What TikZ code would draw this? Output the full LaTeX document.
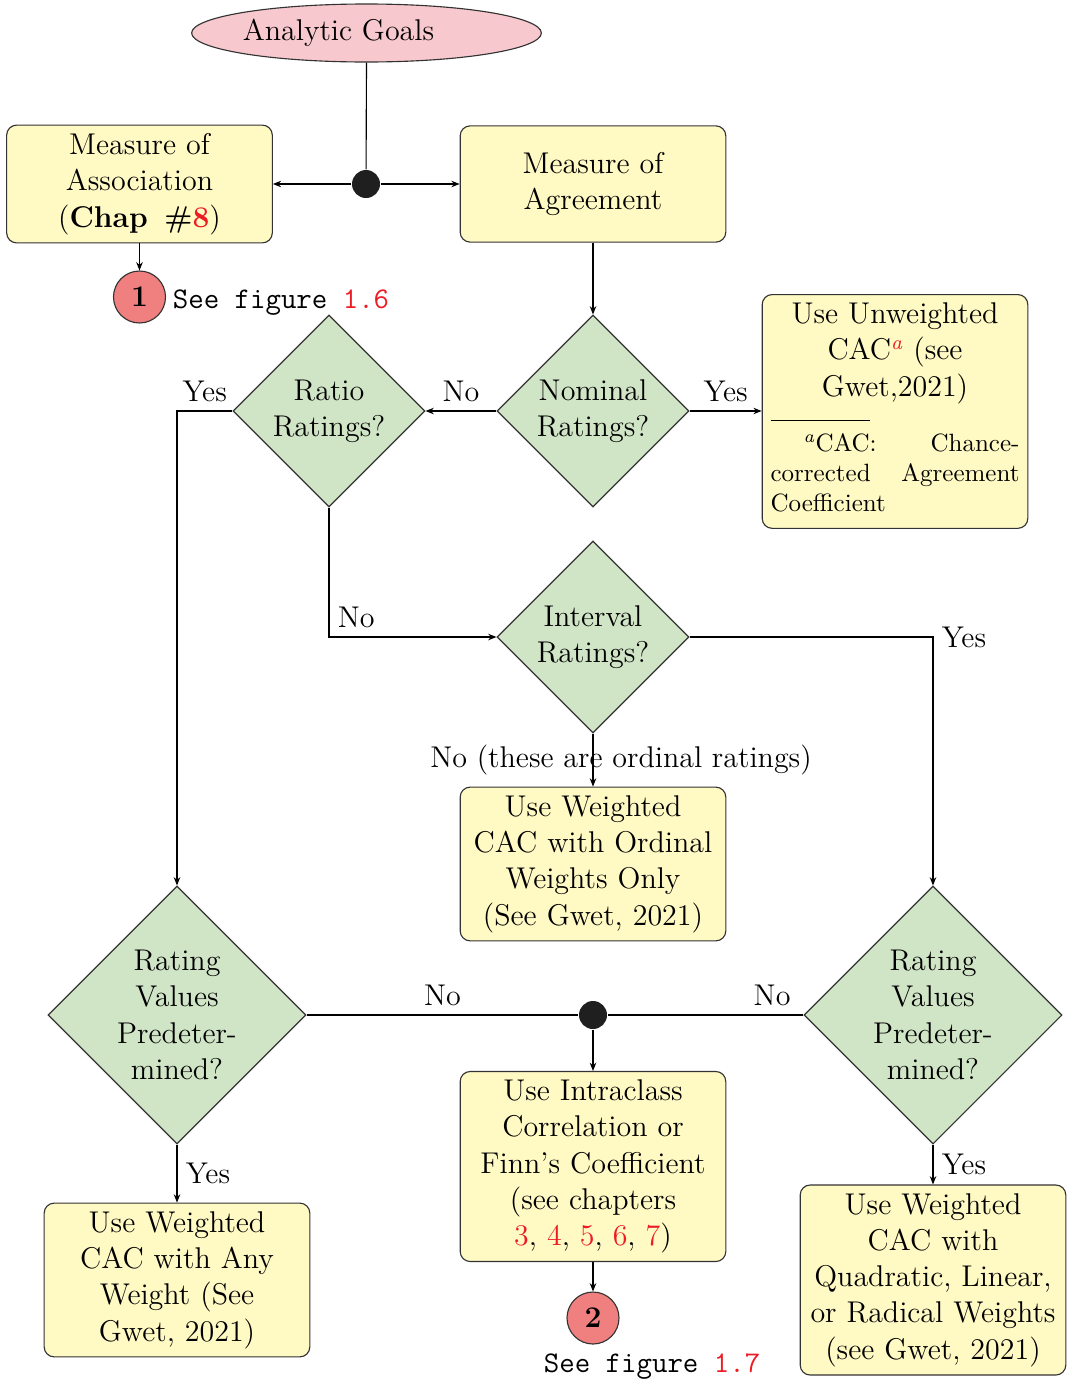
\documentclass[tikz,border=0pt]{standalone}
\usetikzlibrary{shapes.geometric,arrows.meta}
\definecolor{ellpink}{RGB}{247,200,205}
\definecolor{boxyel}{RGB}{255,249,196}
\definecolor{diagreen}{RGB}{208,228,198}
\definecolor{circred}{RGB}{240,128,128}
\definecolor{refred}{RGB}{237,28,36}
\begin{document}
\begin{tikzpicture}[x=0.4pt,y=-0.4pt,
  font=\fontsize{12}{14.5}\selectfont,
  line width=0.45pt,
  >={Stealth[length=3.3pt,width=2.6pt]},
  box/.style={draw=black!80, rectangle, rounded corners=4pt, fill=boxyel, text width=3.5cm, align=center, minimum height=46.5pt},
  decision/.style={draw=black!80, diamond, aspect=1, fill=diagreen, align=center, inner sep=0pt},
  smalldec/.style={decision, minimum width=76.8pt, minimum height=76.8pt},
  bigdec/.style={decision, minimum width=103.2pt, minimum height=103.2pt},
  goal/.style={draw=black!80, ellipse, fill=ellpink, minimum width=139.6pt, minimum height=23.2pt, inner xsep=0pt, inner ysep=1pt},
  joint/.style={circle, fill=black!88, minimum size=11.2pt, inner sep=0pt},
  connector/.style={circle, draw=black!80, fill=circred, minimum size=20.8pt, inner sep=0pt, font=\fontsize{12}{14.5}\selectfont\bfseries},
  seefig/.style={anchor=base west, font=\fontsize{12}{14.5}\selectfont\ttfamily},
]
\useasboundingbox (0,0) rectangle (1067,1380);

% nodes
\node[goal] (goal) at (366.5,33) {Analytic Goals\hspace*{22.4pt}};
\node[joint] (j1) at (366,184) {};
\node[box] (assoc) at (139.5,184) {Measure of\\Association\\(\textbf{Chap\hspace{0.55em}\#\textcolor{refred}{8}})};
\node[box] (agree) at (593,184) {Measure of\\Agreement};
\node[connector] (c1) at (139.5,297) {1};
\node[seefig] (s1) at (164,308) {See figure \textcolor{refred}{1.6}};
\node[smalldec] (nom) at (593,411) {Nominal\\Ratings?};
\node[smalldec] (ratio) at (329,411) {Ratio\\Ratings?};
\node[box, align=left, anchor=north] (unw) at (895,294) {%
\begin{minipage}{3.5cm}
{\centering Use Unweighted\\CAC\textsuperscript{\textcolor{refred}{\itshape a}} (see\\Gwet,2021)\par}
\vspace{-4.4pt}
\noindent\rule{0.4\linewidth}{0.4pt}\par
{\fontsize{10}{12}\selectfont
\noindent\hbox to \linewidth{\hbox to 1.8em{\hfil\textsuperscript{\itshape a}}CAC:\hfil Chance-}\par
\noindent\hbox to \linewidth{corrected\hfil Agreement}\par
\noindent\hbox to \linewidth{Coefficient\hfil}\par}
\vspace{3.2pt}
\end{minipage}};
\node[smalldec] (interval) at (593,637) {Interval\\Ratings?};
\node[box] (ordinal) at (593,864) {Use Weighted\\CAC with Ordinal\\Weights Only\\(See Gwet, 2021)};
\node[bigdec] (rvl) at (177,1015) {Rating\\Values\\Predeter-\\mined?};
\node[bigdec] (rvr) at (933,1015) {Rating\\Values\\Predeter-\\mined?};
\node[joint] (j2) at (593,1015) {};
\node[box] (icc) at (593,1166.5) {Use Intraclass\\Correlation or\\Finn's Coefficient\\(see chapters\\\textcolor{refred}{3}, \textcolor{refred}{4}, \textcolor{refred}{5}, \textcolor{refred}{6}, \textcolor{refred}{7})};
\node[box] (anyw) at (177,1280) {Use Weighted\\CAC with Any\\Weight (See\\Gwet, 2021)};
\node[box] (quad) at (933,1280) {Use Weighted\\CAC with\\Quadratic, Linear,\\or Radical Weights\\(see Gwet, 2021)};
\node[connector] (c2) at (593,1318) {2};
\node[seefig] (s2) at (535,1372) {See figure \textcolor{refred}{1.7}};

% connectors
\draw (goal.south) -- (j1);
\draw[->] (j1) -- (assoc.east);
\draw[->] (j1) -- (agree.west);
\draw[->] (assoc.south) -- (c1.north);
\draw[->] (agree.south) -- (nom.north);
\draw[->] (nom.west) -- node[above]{No} (ratio.east);
\draw[->] (nom.east) -- node[above]{Yes} (nom.east -| unw.west);
\draw[->] (ratio.west) -| node[pos=0.25, above]{Yes} (rvl.north);
\draw[->] (ratio.south) |- node[pos=0.5, above right]{No} (interval.west);
\draw[->] (interval.east) -| node[pos=0.5, right]{Yes} (rvr.north);
\draw[->] (interval.south) -- node[midway, xshift=11.2pt]{No (these are ordinal ratings)} (ordinal.north);
\draw (rvl.east) -- node[above]{No} (j2);
\draw (rvr.west) -- node[pos=0.16, above]{No} (j2);
\draw[->] (j2) -- (icc.north);
\draw[->] (rvl.south) -- node[right]{Yes} (anyw.north);
\draw[->] (rvr.south) -- node[right]{Yes} (quad.north);
\draw[->] (icc.south) -- (c2.north);
\end{tikzpicture}
\end{document}
